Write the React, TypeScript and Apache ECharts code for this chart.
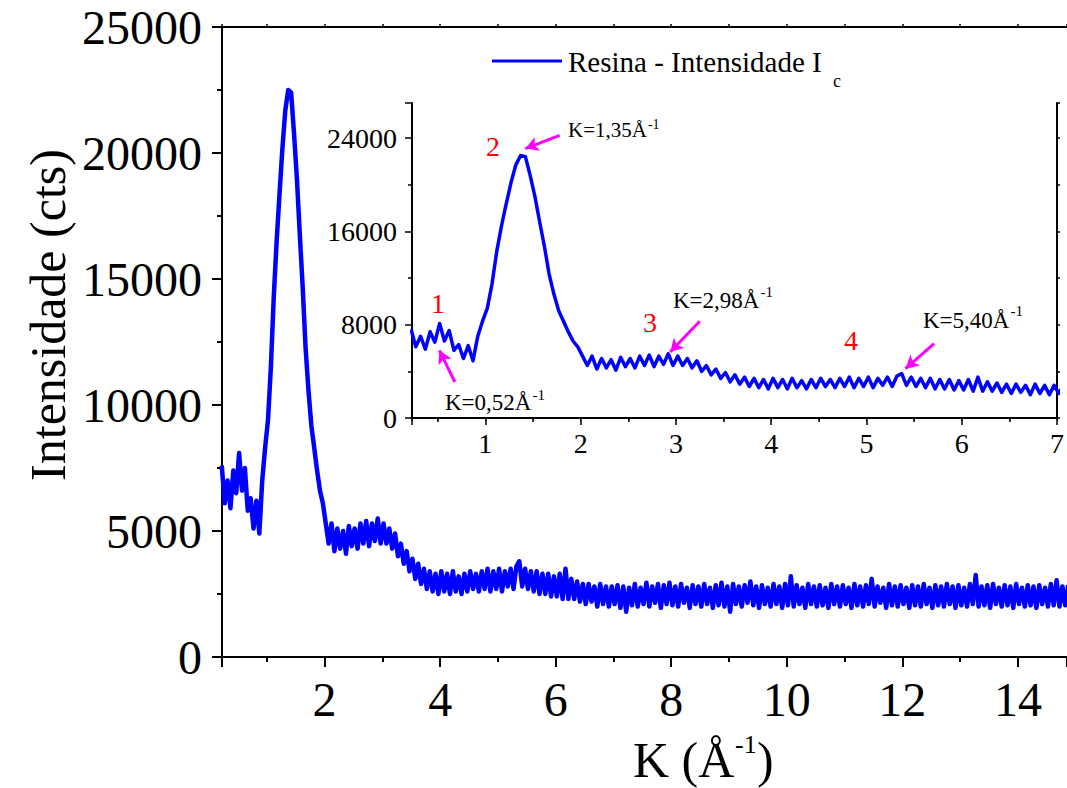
import React, { useEffect, useRef } from "react";
import * as echarts from "echarts";

// Sampling grid of the scan (K in Å^-1)
const K_START = 0.22;
const K_STEP = 0.05;

// Intensity (cts), one value per sample
const intensity = [
  // 0.22 - 0.67
  7600, 6100, 7000, 5900, 7400, 6500, 8100, 6600, 7500, 5800,
  // 0.72 - 0.92
  6300, 5100, 6200, 4900, 7000,
  // 0.97 - 2.02
  8300, 9400, 11500, 14300, 16500, 18400, 20200, 21700, 22500, 22400,
  20800, 19000, 16800, 14700, 12300, 10600, 9200, 8300, 7400, 6600, 6100, 5300,
  // 2.07 - 3.02
  4500, 5300, 4200, 5100, 4300, 5000, 4100, 5200, 4400, 5100,
  4300, 5300, 4500, 5400, 4400, 5300, 4600, 5500, 4500, 5300,
  // 3.07 - 3.52
  4500, 5100, 4300, 4900, 4000, 4500, 3700, 4200, 3400, 3900,
  // 3.57 - 4.02
  3100, 3700, 2900, 3500, 2700, 3400, 2600, 3300, 2500, 3400,
  // 4.07 - 4.52
  2600, 3300, 2500, 3400, 2600, 3200, 2500, 3300, 2600, 3400,
  // 4.57 - 5.02
  2700, 3300, 2600, 3400, 2700, 3500, 2600, 3400, 2700, 3500,
  // 5.07 - 5.52
  2600, 3400, 2800, 3500, 2700, 3600, 3800, 2800, 3500, 2700,
  // 5.57 - 6.02
  3400, 2600, 3400, 2500, 3300, 2500, 3300, 2400, 3200, 2400,
  // 6.07 - 6.52
  3300, 2300, 3500, 2300, 3100, 2300, 3000, 2200, 2900, 2100,
  // 6.57 - 6.97
  2900, 2200, 2800, 2000, 2900, 2100, 2800, 2000, 2800,
  // 7.02 - 7.47
  2100, 2850, 1950, 2800, 1800, 2750, 2050, 2900, 2000, 2750,
  // 7.52 - 7.97
  2100, 2950, 2000, 2800, 2150, 2900, 1950, 2850, 2100, 2950,
  // 8.02 - 8.47
  2050, 2800, 2000, 2900, 2150, 2750, 1950, 2850, 2100, 2800,
  // 8.52 - 8.97
  2000, 2900, 2100, 2750, 1950, 2850, 2050, 2950, 2000, 2800,
  // 9.02 - 9.47
  1800, 2900, 2100, 2800, 2000, 2850, 2150, 3000, 2050, 2800,
  // 9.52 - 9.97
  1950, 2850, 2100, 2750, 2000, 2900, 2100, 2800, 1950, 2900,
  // 10.02 - 10.47
  2050, 3200, 2000, 2850, 2100, 2750, 1950, 2900, 2100, 2800,
  // 10.52 - 10.97
  2000, 2850, 2050, 2750, 1950, 2900, 2100, 2800, 2000, 2850,
  // 11.02 - 11.47
  2100, 2750, 1950, 2900, 2050, 2800, 2000, 2850, 2100, 3100,
  // 11.52 - 11.97
  2000, 2800, 2150, 2750, 1950, 2900, 2050, 2800, 2000, 2850,
  // 12.02 - 12.47
  2100, 2750, 1950, 2850, 2050, 2800, 2000, 2900, 2100, 2750,
  // 12.52 - 12.97
  1950, 2850, 2050, 2800, 2000, 2900, 2100, 2800, 1950, 2850,
  // 13.02 - 13.47
  2050, 2750, 2000, 2900, 2100, 3250, 2000, 2800, 2050, 2850,
  // 13.52 - 13.97
  1950, 2900, 2100, 2750, 2000, 2850, 2050, 2800, 1950, 2900,
  // 14.02 - 14.47
  2100, 2750, 2000, 2850, 2050, 2800, 1950, 2850, 2100, 2750,
  // 14.52 - 14.87
  2000, 2900, 2050, 3050, 2000, 2800, 2050, 2850,
];

const kValues = intensity.map((_, i) => Number((K_START + i * K_STEP).toFixed(2)));

// Inset annotation arrows (data coordinates of the inset): tail -> head
const arrowTails = [[0.68, 3086], [1.78, 24230], [3.25, 8290], [5.71, 6375]];
const arrowHeads = [[0.517, 5800], [1.42, 23090], [2.94, 5660], [5.41, 4230]];
const peakLabels = ["K=0,52Å", "K=1,35Å", "K=2,98Å", "K=5,40Å"];
const peakNumbers = ["1", "2", "3", "4"];

const mainYTicks = { min: 0, max: 25000, interval: 5000 };
const insetYTicks = { min: 0, max: 27000, step: 8000 };

const FONT = "Liberation Serif";
const BLUE = "#0000FF";
const MAGENTA = "#FF00FF";

function measure(text: string, size: number): number {
  const c = document.createElement("canvas").getContext("2d");
  if (!c) return text.length * size * 0.5;
  c.font = `${size}px "${FONT}"`;
  return c.measureText(text).width;
}

function txt(text: string, x: number, y: number, size: number, fill = "#000", align = "left", extra: any = {}) {
  return {
    type: "text",
    x,
    y,
    silent: true,
    ...extra,
    style: {
      text,
      fill,
      font: `${size}px "${FONT}"`,
      fontSize: size,
      fontFamily: FONT,
      align,
      verticalAlign: "middle",
      textAlign: align,
      textVerticalAlign: "middle",
    },
  };
}

// label with a "-1" superscript right after it
function supLabel(text: string, x: number, y: number, size: number, supSize: number, supDy: number) {
  const w = measure(text, size);
  return [txt(text, x, y, size), txt("-1", x + w + 1, y + supDy, supSize)];
}

export default function App() {
  const ref = useRef<HTMLDivElement>(null);

  useEffect(() => {
    if (!ref.current) return;
    const chart = echarts.init(ref.current, null, { renderer: "svg" });
    const data = kValues.map((k, i) => [k, intensity[i]]);

    const axisLine = { show: true, lineStyle: { color: "#000", width: 2 } };
    const numFmt = (v: number) => String(v);

    const option: any = {
      animation: false,
      backgroundColor: "#fff",
      textStyle: { fontFamily: FONT },
      grid: [
        { left: 222, top: 27, right: 0, bottom: 131 },
        { left: 412, top: 103, right: 2, bottom: 370 },
      ],
      xAxis: [
        {
          type: "value",
          gridIndex: 0,
          position: "bottom",
          min: 0.224,
          max: 14.85,
          minInterval: 2,
          maxInterval: 2,
          axisLine,
          axisTick: { show: true, length: 10, lineStyle: { color: "#000", width: 2 } },
          minorTick: { show: true, splitNumber: 2, length: 5, lineStyle: { color: "#000", width: 2 } },
          axisLabel: {
            margin: 18,
            fontSize: 48,
            fontFamily: FONT,
            color: "#000",
            showMinLabel: false,
            showMaxLabel: false,
            formatter: numFmt,
          },
          splitLine: { show: false },
        },
        {
          type: "value",
          gridIndex: 0,
          position: "top",
          min: 0.224,
          max: 14.85,
          minInterval: 1,
          maxInterval: 1,
          axisLine,
          axisTick: { show: true, length: 3, lineStyle: { color: "#000", width: 1.5 } },
          axisLabel: { show: false },
          splitLine: { show: false },
        },
        {
          type: "value",
          gridIndex: 1,
          position: "bottom",
          min: 0.23,
          max: 7,
          minInterval: 1,
          maxInterval: 1,
          axisLine,
          axisTick: { show: true, length: 7, lineStyle: { color: "#000", width: 1.5 } },
          minorTick: { show: true, splitNumber: 2, length: 4, lineStyle: { color: "#000", width: 1.5 } },
          axisLabel: {
            margin: 11,
            fontSize: 28,
            fontFamily: FONT,
            color: "#000",
            showMinLabel: false,
            formatter: numFmt,
          },
          splitLine: { show: false },
        },
        {
          type: "value",
          gridIndex: 1,
          position: "top",
          min: 0.23,
          max: 7,
          minInterval: 0.5,
          maxInterval: 0.5,
          axisLine,
          axisTick: { show: true, inside: true, length: 3, lineStyle: { color: "#000", width: 1 } },
          axisLabel: { show: false },
          splitLine: { show: false },
        },
      ],
      yAxis: [
        {
          type: "value",
          gridIndex: 0,
          position: "left",
          min: mainYTicks.min,
          max: mainYTicks.max,
          interval: mainYTicks.interval,
          axisLine,
          axisTick: { show: true, length: 10, lineStyle: { color: "#000", width: 2 } },
          minorTick: { show: true, splitNumber: 2, length: 5, lineStyle: { color: "#000", width: 2 } },
          axisLabel: { margin: 20, fontSize: 48, fontFamily: FONT, color: "#000", formatter: numFmt },
          splitLine: { show: false },
        },
        {
          type: "value",
          gridIndex: 1,
          position: "left",
          min: insetYTicks.min,
          max: insetYTicks.max,
          minInterval: insetYTicks.step,
          maxInterval: insetYTicks.step,
          axisLine,
          axisTick: { show: true, length: 7, lineStyle: { color: "#000", width: 1.5 } },
          minorTick: { show: true, splitNumber: 2, length: 4, lineStyle: { color: "#000", width: 1.5 } },
          axisLabel: {
            margin: 15,
            fontSize: 28,
            fontFamily: FONT,
            color: "#000",
            showMaxLabel: false,
            formatter: numFmt,
          },
          splitLine: { show: false },
        },
        {
          type: "value",
          gridIndex: 1,
          position: "right",
          min: insetYTicks.min,
          max: insetYTicks.max,
          minInterval: insetYTicks.step / 2,
          maxInterval: insetYTicks.step / 2,
          axisLine,
          axisTick: { show: true, length: 3, lineStyle: { color: "#000", width: 1.5 } },
          axisLabel: { show: false },
          splitLine: { show: false },
        },
      ],
      series: [
        {
          type: "line",
          xAxisIndex: 0,
          yAxisIndex: 0,
          data,
          symbol: "none",
          lineStyle: { color: BLUE, width: 4.5, join: "round" },
          itemStyle: { color: BLUE },
          clip: true,
        },
        {
          type: "line",
          xAxisIndex: 2,
          yAxisIndex: 1,
          data,
          symbol: "none",
          lineStyle: { color: BLUE, width: 3.5, join: "round" },
          itemStyle: { color: BLUE },
          clip: true,
          markLine: {
            silent: true,
            symbol: ["none", "arrow"],
            symbolSize: [11, 13],
            label: { show: false },
            lineStyle: { color: MAGENTA, width: 3, type: "solid" },
            data: arrowTails.map((t, i) => [{ coord: t }, { coord: arrowHeads[i] }]),
          },
        },
      ],
      graphic: [
        // legend
        {
          type: "line",
          silent: true,
          shape: { x1: 492, y1: 61, x2: 562, y2: 61 },
          style: { stroke: BLUE, lineWidth: 3 },
        },
        txt("Resina - Intensidade I", 568, 62, 29),
        txt("c", 833, 81, 18),
        // axis titles
        txt("K (Å", 633, 760, 50),
        txt("-1", 735, 744, 26),
        txt(")", 757, 760, 50),
        txt("Intensidade (cts)", 48, 315, 50, "#000", "center", { rotation: Math.PI / 2 }),
        // inset annotations
        ...supLabel(peakLabels[0], 445, 402, 23, 15, -7),
        ...supLabel(peakLabels[1], 568, 130, 21, 14, -6),
        ...supLabel(peakLabels[2], 673, 300, 23, 15, -8),
        ...supLabel(peakLabels[3], 923, 320, 23, 15, -9),
        txt(peakNumbers[0], 438, 303, 28, "#FF0000", "center"),
        txt(peakNumbers[1], 493, 146, 28, "#FF0000", "center"),
        txt(peakNumbers[2], 650, 322, 28, "#FF0000", "center"),
        txt(peakNumbers[3], 851, 340, 28, "#FF0000", "center"),
      ],
    };

    chart.setOption(option);
    return () => chart.dispose();
  }, []);

  return (
    <div
      ref={ref}
      style={{ position: "fixed", left: 0, top: 0, width: 1067, height: 788, background: "#fff" }}
    />
  );
}
